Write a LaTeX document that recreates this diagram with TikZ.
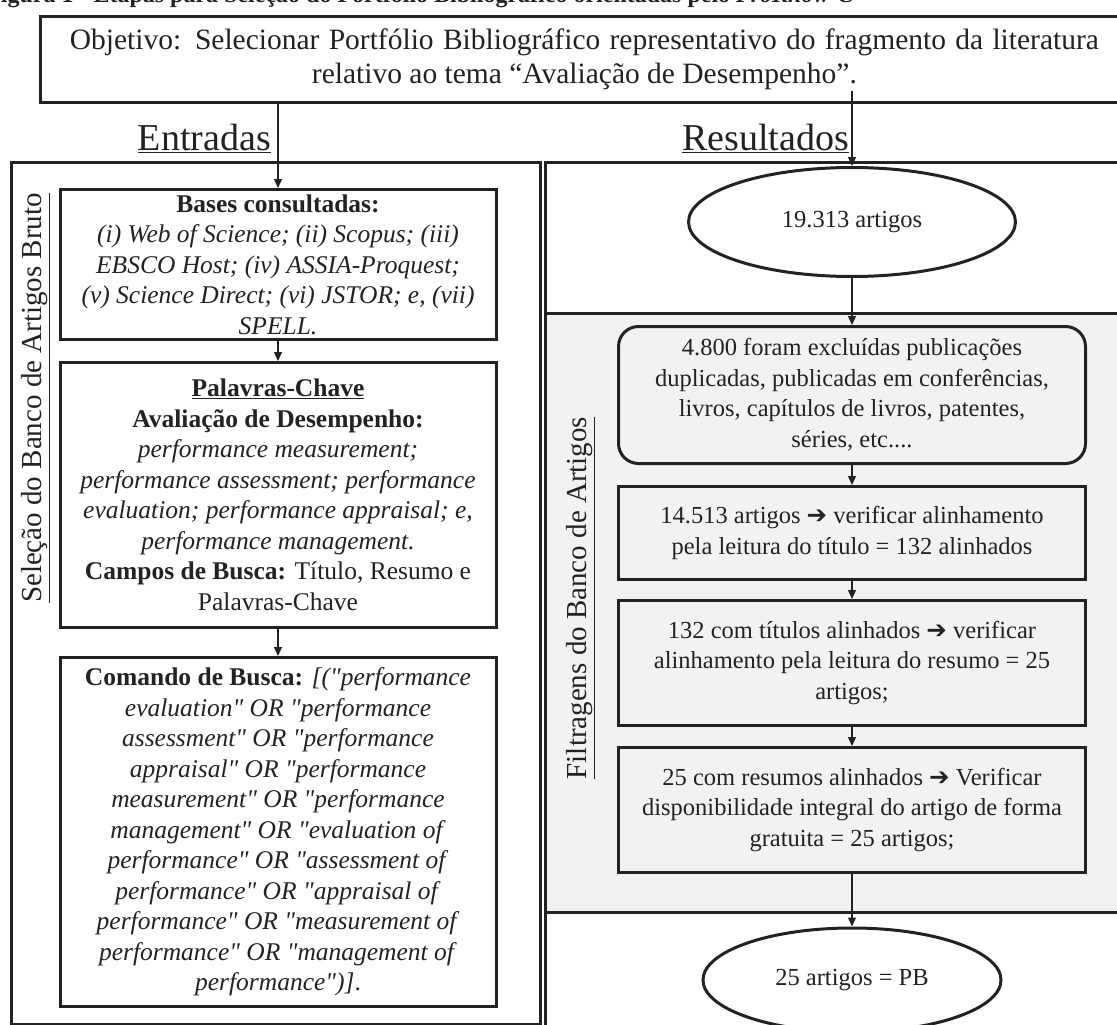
\documentclass[tikz,border=0pt]{standalone}
\usepackage{fontspec}
\setmainfont{Liberation Serif}
\newfontfamily\dingfont{DejaVu Sans}
\usetikzlibrary{arrows.meta,positioning,shapes.geometric}
\definecolor{inkgray}{HTML}{222222}
\definecolor{filtergray}{HTML}{F2F2F2}
\newcommand{\seta}{{\dingfont\char"2794}}
\newcommand{\aspas}{\textquotedbl}

\begin{document}
\begin{tikzpicture}[
  x=1pt, y=-1pt,
  font=\fontsize{24.5}{30.5}\selectfont,
  text=inkgray,
  >={Triangle[length=9pt,width=8pt]},
  area/.style={
    draw=inkgray,
    line width=2.8pt,
    anchor=north west,
    inner sep=0pt
  },
  inbox/.style={
    draw=inkgray,
    fill=white,
    line width=3pt,
    align=center,
    minimum width=436pt,
    inner ysep=2pt,
    font=\fontsize{25.5}{30.5}\selectfont
  },
  outbox/.style={
    draw=inkgray,
    fill=filtergray,
    line width=3pt,
    align=center,
    minimum width=467pt,
    inner ysep=2pt
  },
  result/.style={ellipse, draw=inkgray, fill=white, line width=3pt, inner sep=0pt},
  biglabel/.style={font=\fontsize{38}{40}\selectfont, inner sep=0pt},
  sidelabel/.style={font=\fontsize{29}{32}\selectfont, inner sep=0pt, rotate=90},
  link/.style={->, draw=inkgray, line width=1.3pt}
]
  \useasboundingbox (0,0) rectangle (1117,1025);

  % Caption, cut off by the page edge
  \node[anchor=base west, inner sep=0pt, font=\fontsize{24}{26}\selectfont\bfseries] (caption) at (-14,3)
    {Figura 1 - Etapas para Seleção do Portfólio Bibliográfico orientadas pelo \textit{ProKnow-C}};

  % Objective
  \node[area, fill=white, minimum width=1088pt, minimum height=86pt, align=center,
        font=\fontsize{29.5}{34}\selectfont] (obj) at (39,15) {
    \makebox[1029pt][s]{Objetivo: Selecionar Portfólio Bibliográfico representativo do fragmento da literatura}\\
    relativo ao tema “Avaliação de Desempenho”.
  };

  % Frames
  \node[area, minimum width=529pt, minimum height=862pt] (bruto) at (10,161) {};
  \node[area, minimum width=590pt, minimum height=151pt] (topo) at (544,161) {};
  \node[area, fill=filtergray, minimum width=590pt, minimum height=599pt] (filtro) at (544,312) {};
  \node[area, minimum width=590pt, minimum height=130pt] (fundo) at (544,911) {};

  \node[biglabel, anchor=base east] (entradas) at (271,150) {\underline{Entradas}};
  \node[biglabel, anchor=base west] (resultados) at (682,150) {\underline{Resultados}};

  \node[sidelabel] (selecao) at (36,398) {\underline{Seleção do Banco de Artigos Bruto}};
  \node[sidelabel] (filtragens) at (581,598) {\underline{Filtragens do Banco de Artigos}};

  % Column 1: Entradas
  \node[inbox, minimum height=150pt, anchor=north] (bases) at (278,188) {
    \textbf{Bases consultadas:}\\
    \textit{(i) Web of Science; (ii) Scopus; (iii)}\\
    \textit{EBSCO Host; (iv) ASSIA-Proquest;}\\
    \textit{(v) Science Direct; (vi) JSTOR; e, (vii)}\\
    \textit{SPELL.}
  };

  \node[inbox, minimum height=265pt, below=20pt of bases] (palavras) {
    \textbf{\underline{Palavras-Chave}}\\
    \textbf{Avaliação de Desempenho:}\\
    \textit{performance measurement;}\\
    \textit{performance assessment; performance}\\
    \textit{evaluation; performance appraisal; e,}\\
    \textit{performance management.}\\
    \textbf{Campos de Busca:} Título, Resumo e\\
    Palavras-Chave
  };

  \node[inbox, minimum height=349pt, below=27pt of palavras] (comando) {
    \textbf{Comando de Busca:} \textit{[(\aspas performance}\\
    \textit{evaluation\aspas{} OR \aspas performance}\\
    \textit{assessment\aspas{} OR \aspas performance}\\
    \textit{appraisal\aspas{} OR \aspas performance}\\
    \textit{measurement\aspas{} OR \aspas performance}\\
    \textit{management\aspas{} OR \aspas evaluation of}\\
    \textit{performance\aspas{} OR \aspas assessment of}\\
    \textit{performance\aspas{} OR \aspas appraisal of}\\
    \textit{performance\aspas{} OR \aspas measurement of}\\
    \textit{performance\aspas{} OR \aspas management of}\\
    \textit{performance\aspas)]}.
  };

  % Column 2: Resultados
  \node[result, minimum width=327pt, minimum height=109pt] (artigos) at (852,222) {19.313 artigos};

  \node[outbox, rounded corners=20pt, minimum height=137pt, anchor=north] (exclusao) at (852,325) {
    4.800 foram excluídas publicações\\
    duplicadas, publicadas em conferências,\\
    livros, capítulos de livros, patentes,\\
    séries, etc....
  };

  \node[outbox, minimum height=93pt, below=20pt of exclusao] (titulo) {
    14.513 artigos \seta{} verificar alinhamento\\
    pela leitura do título = 132 alinhados
  };

  \node[outbox, minimum height=125pt, below=18pt of titulo] (resumo) {
    132 com títulos alinhados \seta{} verificar\\
    alinhamento pela leitura do resumo = 25\\
    artigos;
  };

  \node[outbox, minimum height=125pt, below=19pt of resumo] (integral) {
    25 com resumos alinhados \seta{} Verificar\\
    disponibilidade integral do artigo de forma\\
    gratuita = 25 artigos;
  };

  \node[result, minimum width=298pt, minimum height=104pt] (pb) at (852,980) {25 artigos = PB};

  % Connectors
  \path (obj.south -| artigos.north) ++(0,-13) coordinate (stub);
  \draw[link] (obj.south -| bases.north) -- (bases.north);
  \draw[link] (stub) -- (artigos.north);
  \draw[link] (bases) -- (palavras);
  \draw[link] (palavras) -- (comando);
  \draw[link] (artigos) -- (exclusao);
  \draw[link] (exclusao) -- (titulo);
  \draw[link] (titulo) -- (resumo);
  \draw[link] (resumo) -- (integral);
  \draw[link] (integral) -- (pb);

\end{tikzpicture}
\end{document}
